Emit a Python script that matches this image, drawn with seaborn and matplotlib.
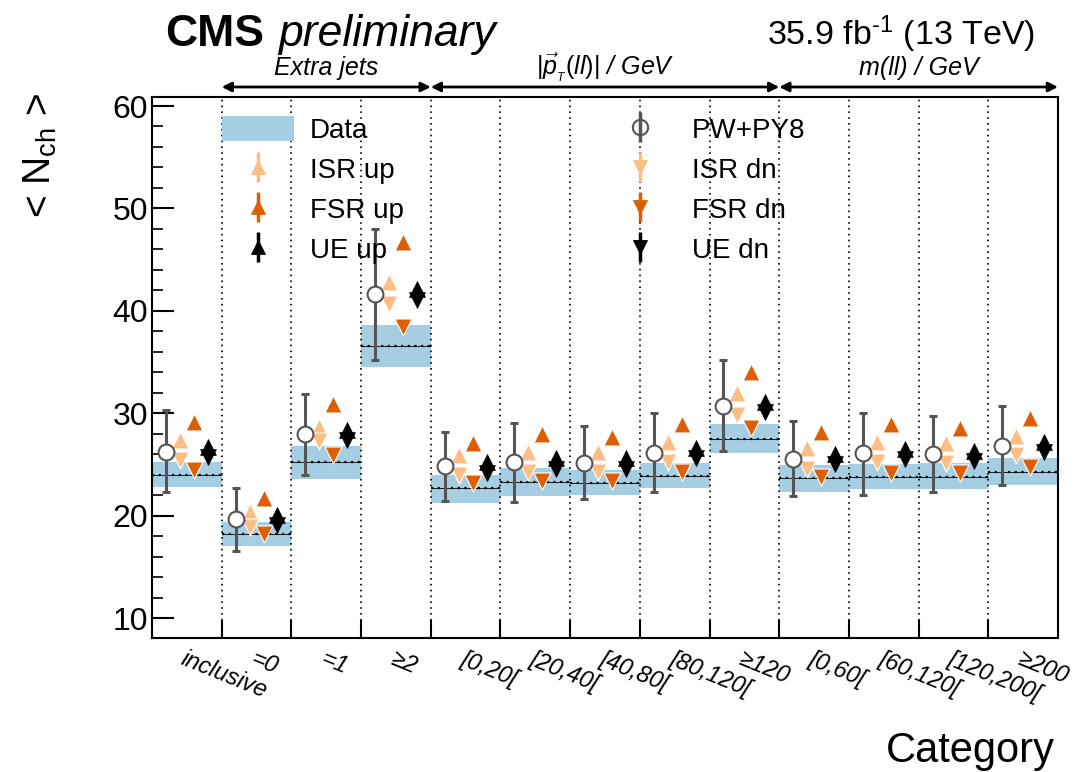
import numpy as np
import pandas as pd
import matplotlib
matplotlib.use("Agg")
import matplotlib.pyplot as plt
import seaborn as sns
from matplotlib.lines import Line2D
from matplotlib.patches import Patch

# ---------------- data ----------------
categories = ["inclusive", "=0", "=1", "\u22652",
              "[0,20[", "[20,40[", "[40,80[", "[80,120[", "\u2265120",
              "[0,60[", "[60,120[", "[120,200[", "\u2265200"]

data_val = [24.0, 18.2, 25.2, 36.6, 22.7, 23.3, 23.2, 23.9, 27.5, 23.7, 23.8, 23.8, 24.3]
data_lo = [22.8, 17.0, 23.6, 34.5, 21.2, 21.9, 22.0, 22.7, 26.1, 22.3, 22.6, 22.6, 23.0]
data_hi = [25.2, 19.4, 26.8, 38.6, 24.0, 24.65, 24.45, 25.1, 28.9, 24.9, 25.0, 25.1, 25.6]

pw_val = [26.2, 19.7, 28.0, 41.6, 24.8, 25.2, 25.1, 26.1, 30.7, 25.5, 26.1, 26.0, 26.8]
pw_lo = [22.3, 16.5, 24.0, 35.2, 21.4, 21.3, 21.6, 22.3, 26.3, 21.9, 22.0, 22.3, 23.0]
pw_hi = [30.3, 22.7, 31.9, 48.0, 28.2, 29.0, 28.8, 30.0, 35.2, 29.2, 30.0, 29.7, 30.7]

isr_up = [27.4, 20.4, 28.7, 42.8, 25.9, 26.2, 26.2, 27.2, 32.0, 26.6, 27.2, 27.1, 27.8]
isr_dn = [25.4, 18.9, 27.3, 40.7, 24.0, 24.3, 24.3, 25.2, 29.8, 24.6, 25.2, 25.1, 25.9]
fsr_up = [29.1, 21.75, 30.9, 46.7, 27.1, 28.0, 27.7, 28.9, 34.0, 28.2, 28.9, 28.6, 29.5]
fsr_dn = [24.45, 18.2, 25.9, 38.4, 23.2, 23.4, 23.4, 24.3, 28.6, 23.8, 24.2, 24.2, 24.7]
ue_up = [26.7, 20.1, 28.4, 42.1, 25.2, 25.6, 25.6, 26.6, 31.1, 26.0, 26.5, 26.3, 27.2]
ue_dn = [25.7, 19.1, 27.4, 41.1, 24.2, 24.6, 24.6, 25.6, 30.1, 25.0, 25.5, 25.3, 26.2]

group_labels = ["Extra jets", r"$|\vec{p}_{_T}(ll)|$ / GeV", "m(ll) / GeV"]
group_sizes = [3, 5, 4]

# ---------------- style ----------------
sns.set_theme(style="ticks")
plt.rcParams.update({
    "font.family": ["Liberation Sans", "DejaVu Sans"],
    "mathtext.fontset": "custom",
    "mathtext.rm": "Liberation Sans",
    "mathtext.it": "Liberation Sans:italic",
    "mathtext.bf": "Liberation Sans:bold",
    "axes.linewidth": 1.5,
    "text.color": "black",
    "axes.labelcolor": "black",
    "xtick.color": "black",
    "ytick.color": "black",
    "axes.edgecolor": "black",
})

C_DATA = "#a6cee3"
C_ISR = "#fdbe85"
C_FSR = "#dd5f05"
C_UE = "#000000"
C_PW = "#555555"

offsets = {"PW": -0.3, "ISR": -0.1, "FSR": 0.1, "UE": 0.3}

fig = plt.figure(figsize=(10.83, 7.72), dpi=100)
ax = fig.add_axes([152 / 1083, 1 - 638 / 772, (1058 - 152) / 1083, (638 - 97) / 772])

idx = np.arange(len(categories))
YLO, YHI = 8.05, 60.88
ax.set_xlim(-0.5, len(categories) - 0.5)
ax.set_ylim(YLO, YHI)

# data band
lo = np.array(data_lo)
hi = np.array(data_hi)
ax.bar(idx, hi - lo, bottom=lo, width=1.0, color=C_DATA, edgecolor="none", zorder=1)
ax.hlines(data_val, idx - 0.5, idx + 0.5, colors="black", lw=0.6, zorder=2)
ax.hlines(data_val, idx - 0.5, idx + 0.5, colors="black", lw=1.6,
          linestyles=(0, (1, 2)), zorder=2)

# separators
ax.vlines(idx[:-1] + 0.5, YLO, YHI, colors="black", lw=1.2,
          linestyles=(0, (1, 2.5)), zorder=1.5)

# PW error bars
pw = np.array(pw_val)
ax.errorbar(idx + offsets["PW"], pw, yerr=[pw - np.array(pw_lo), np.array(pw_hi) - pw],
            fmt="none", ecolor=C_PW, elinewidth=2.2, capsize=3, capthick=2.2, zorder=3)

# markers through seaborn
def scat(vals, off, marker, color, ec, s, lw=0.8, z=4):
    df = pd.DataFrame({"x": idx + off, "y": vals})
    sns.scatterplot(data=df, x="x", y="y", marker=marker, color=color,
                    edgecolor=ec, s=s, linewidth=lw, ax=ax, zorder=z, legend=False)

scat(pw_val, offsets["PW"], "o", "white", C_PW, 130, lw=1.5, z=5)
scat(isr_up, offsets["ISR"], "^", C_ISR, "white", 150)
scat(isr_dn, offsets["ISR"], "v", C_ISR, "white", 150)
scat(fsr_up, offsets["FSR"], "^", C_FSR, "white", 150)
scat(fsr_dn, offsets["FSR"], "v", C_FSR, "white", 150)
scat(ue_up, offsets["UE"], "^", C_UE, C_UE, 130, lw=0.5)
scat(ue_dn, offsets["UE"], "v", C_UE, C_UE, 130, lw=0.5)

ax.set_xlabel("")
ax.set_ylabel("")

# axes ticks
ax.set_xticks(idx)
ax.set_xticklabels(categories, rotation=-22, ha="left", va="top",
                   rotation_mode="anchor", fontstyle="italic", fontsize=17)
ax.set_xticks(idx[:-1] + 0.5, minor=True)
ax.tick_params(axis="x", which="major", length=0, pad=7)
ax.tick_params(axis="x", which="minor", direction="in", length=13, width=1.5)
ax.set_yticks(np.arange(10, 61, 10))
ax.set_yticks(np.arange(10, 61, 2), minor=True)
ax.tick_params(axis="y", which="major", direction="in", length=16, width=1.5,
               labelsize=23, pad=3)
ax.tick_params(axis="y", which="minor", direction="in", length=8, width=1.2)
for sp in ax.spines.values():
    sp.set_visible(True)
    sp.set_linewidth(1.5)
    sp.set_color("black")

# group arrows & labels
trans = ax.get_xaxis_transform()
edges = np.concatenate([[0.5], 0.5 + np.cumsum(group_sizes)])
for g, lab in enumerate(group_labels):
    a, b = edges[g], edges[g + 1]
    ax.annotate("", xy=(b, 1.0185), xytext=(a, 1.0185), xycoords=trans, textcoords=trans,
                arrowprops=dict(arrowstyle="<|-|>", lw=2, color="black",
                                shrinkA=0, shrinkB=0, mutation_scale=14),
                annotation_clip=False)
    ax.text((a + b) / 2, 1.041, lab, transform=trans, ha="center", va="baseline",
            fontsize=18, fontstyle="italic")

# header texts
fig.text(165 / 1083, 1 - 46 / 772, "CMS", fontsize=32, fontweight="bold",
         ha="left", va="baseline")
fig.text(278 / 1083, 1 - 46 / 772, "preliminary", fontsize=32, fontstyle="italic",
         ha="left", va="baseline")
fig.text(1035 / 1083, 1 - 45 / 772, r"35.9 fb$^{\text{-1}}$ (13 TeV)", fontsize=24.5,
         ha="right", va="baseline")
fig.text(40 / 1083, 1 - 93 / 772, r"< N$_{\mathrm{ch}}$ >", rotation=90, fontsize=28,
         ha="center", va="top")
fig.text(1055 / 1083, 1 - 762 / 772, "Category", fontsize=30, ha="right", va="baseline")

# legends
def mk(marker, color, ec=None, ms=10):
    return Line2D([], [], ls="", marker=marker, color=color, mfc=color,
                  mec=ec if ec else color, ms=ms, mew=0.6)

def bar(color):
    return Line2D([], [], ls="", marker="|", color=color, ms=22, mew=2.5)

h1 = [Patch(facecolor=C_DATA, edgecolor="none"),
      (bar(C_ISR), mk("^", C_ISR)),
      (bar(C_FSR), mk("^", C_FSR)),
      (bar(C_UE), mk("^", C_UE))]
l1 = ["Data", "ISR up", "FSR up", "UE up"]
h2 = [(Line2D([], [], ls="", marker="o", mfc="white", mec=C_PW, ms=11, mew=1.5),
       bar(C_PW)),
      (bar(C_ISR), mk("v", C_ISR)),
      (bar(C_FSR), mk("v", C_FSR)),
      (bar(C_UE), mk("v", C_UE))]
l2 = ["PW+PY8", "ISR dn", "FSR dn", "UE dn"]

common = dict(frameon=False, fontsize=20, handlelength=2.6, handleheight=1.0,
              handletextpad=0.55, labelspacing=0.44, borderpad=0, borderaxespad=0,
              loc="upper left")
leg1 = fig.legend(h1, l1, bbox_to_anchor=(222 / 1083, 1 - 116 / 772), **common)
leg2 = fig.legend(h2, l2, bbox_to_anchor=(604 / 1083, 1 - 116 / 772), **common)

fig.savefig("out.png", dpi=100)
